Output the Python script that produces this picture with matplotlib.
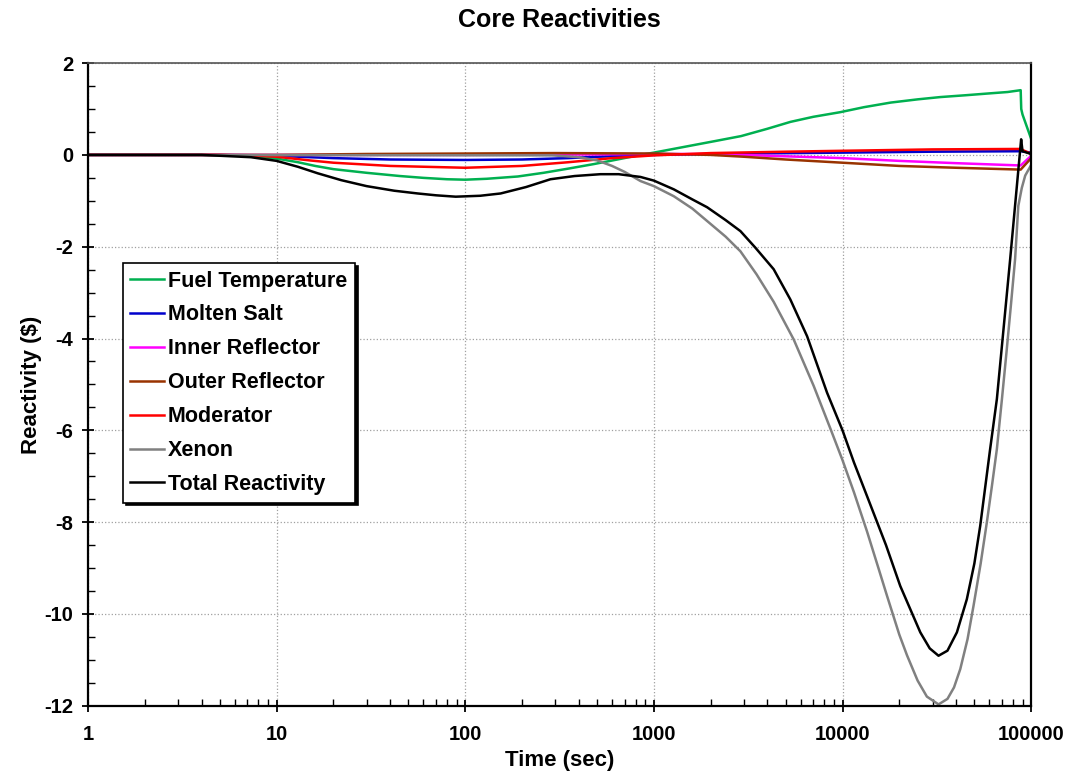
import matplotlib
matplotlib.use("Agg")
import matplotlib.pyplot as plt
from matplotlib.ticker import LogLocator, MultipleLocator, NullFormatter

plt.rcParams["font.family"] = ["Liberation Sans", "DejaVu Sans"]
plt.rcParams["axes.unicode_minus"] = False

# values (time in sec, reactivity in $)
fuel_t = [1, 4, 6, 8, 10, 13, 16, 20, 30, 45, 60, 80, 100, 130, 190, 260, 350, 480, 640, 850,
          1000, 1560, 2100, 2900, 4000, 5300, 7000, 9700, 13000, 18000, 25000, 33000, 45000,
          60000, 75000, 88000, 88600, 90000, 100000]
fuel_v = [0, 0, -0.01, -0.04, -0.08, -0.16, -0.24, -0.31, -0.39, -0.46, -0.5, -0.53, -0.54,
          -0.52, -0.47, -0.39, -0.30, -0.2, -0.1, 0.0, 0.05, 0.2, 0.3, 0.41, 0.57, 0.72, 0.83,
          0.93, 1.04, 1.14, 1.21, 1.26, 1.30, 1.34, 1.37, 1.41, 1.0, 0.88, 0.35]

salt_t = [1, 5, 8, 10, 15, 20, 40, 100, 200, 350, 500, 700, 1000, 3000, 10000, 30000, 88000, 100000]
salt_v = [0, 0, -0.01, -0.02, -0.05, -0.07, -0.1, -0.11, -0.1, -0.07, -0.04, -0.02, 0.0, 0.03,
          0.05, 0.07, 0.08, 0.05]

inner_t = [1, 100, 500, 1000, 2000, 5000, 10000, 20000, 40000, 88000, 100000]
inner_v = [0, 0, 0.01, 0.02, 0.02, -0.03, -0.07, -0.13, -0.18, -0.23, -0.02]

outer_t = [1, 10, 30, 100, 300, 1000, 2000, 3000, 5000, 10000, 20000, 40000, 88000, 100000]
outer_v = [0, 0, 0.02, 0.03, 0.04, 0.03, 0.0, -0.04, -0.1, -0.17, -0.24, -0.28, -0.32, -0.07]

mod_t = [1, 5, 8, 10, 15, 20, 40, 100, 200, 350, 600, 1000, 2000, 5000, 10000, 30000, 88000,
         91000, 100000]
mod_v = [0, 0, -0.02, -0.04, -0.12, -0.17, -0.24, -0.28, -0.24, -0.16, -0.07, -0.01, 0.04,
         0.07, 0.09, 0.12, 0.13, 0.10, 0.02]

xenon_t = [1, 290, 400, 500, 600, 700, 850, 1000, 1275, 1600, 1915, 2400, 2876, 3500, 4315,
           5510, 7030, 8790, 10000, 11500, 13480, 15500, 17200, 20000, 21970, 25000, 28000,
           32280, 36000, 39000, 42100, 46000, 49500, 54000, 58200, 62000, 65800, 70000, 74000,
           78000, 82200, 85500, 89200, 93000, 100000]
xenon_v = [0, -0.01, -0.05, -0.12, -0.24, -0.37, -0.57, -0.68, -0.9, -1.17, -1.44, -1.78, -2.1,
           -2.6, -3.2, -4.02, -5.03, -6.05, -6.65, -7.35, -8.2, -9.0, -9.6, -10.45, -10.9,
           -11.45, -11.8, -11.97, -11.85, -11.6, -11.2, -10.55, -9.82, -8.9, -8.01, -7.2, -6.41,
           -5.32, -4.3, -3.3, -2.27, -1.11, -0.72, -0.45, -0.22]

total_t = [1, 4, 7.3, 10, 13, 16.5, 22, 30, 42, 56, 70, 89, 120, 154, 210, 283, 380, 521, 650,
           849, 1000, 1275, 1600, 1915, 2400, 2876, 3450, 4315, 5290, 6490, 8280, 10000, 11500,
           13480, 17000, 20230, 25840, 29000, 32280, 36000, 40400, 45600, 50000, 53700, 60600,
           65800, 77400, 88500, 90000, 100000]
total_v = [0, 0, -0.05, -0.13, -0.26, -0.40, -0.55, -0.68, -0.78, -0.84, -0.88, -0.91, -0.89,
           -0.84, -0.7, -0.53, -0.46, -0.42, -0.42, -0.48, -0.56, -0.75, -0.97, -1.14, -1.42,
           -1.66, -2.02, -2.49, -3.15, -3.95, -5.18, -6.0, -6.7, -7.43, -8.5, -9.39, -10.4,
           -10.75, -10.91, -10.8, -10.4, -9.68, -8.9, -8.08, -6.41, -5.32, -2.27, 0.34, 0.08,
           0.02]

series = [
    ("Fuel Temperature", fuel_t, fuel_v, "#00b050"),
    ("Molten Salt", salt_t, salt_v, "#0000cc"),
    ("Inner Reflector", inner_t, inner_v, "#ff00ff"),
    ("Outer Reflector", outer_t, outer_v, "#993300"),
    ("Moderator", mod_t, mod_v, "#ff0000"),
    ("Xenon", xenon_t, xenon_v, "#808080"),
    ("Total Reactivity", total_t, total_v, "#000000"),
]
x_ticks = [1, 10, 100, 1000, 10000, 100000]

fig = plt.figure(figsize=(10.73, 7.79), dpi=100)
ax = fig.add_axes([0.082, 0.094, 0.879, 0.825])
for name, t, v, c in series:
    ax.plot(t, v, color=c, lw=1.8, label=name)

ax.set_xscale("log")
ax.set_xlim(1, 100000)
ax.set_ylim(-12, 2)
ax.set_xticks(x_ticks)
ax.set_xticklabels([str(x) for x in x_ticks])
ax.xaxis.set_minor_locator(LogLocator(base=10, subs=range(2, 10)))
ax.xaxis.set_minor_formatter(NullFormatter())
ax.yaxis.set_major_locator(MultipleLocator(2))
ax.yaxis.set_minor_locator(MultipleLocator(0.5))
ax.grid(which="major", color="#a0a0a0", linestyle=":", lw=0.9)
ax.tick_params(which="major", direction="inout", length=9, width=1.3, labelsize=14.5)
ax.tick_params(axis="x", which="major", pad=9)
ax.tick_params(axis="y", which="major", pad=6)
ax.tick_params(which="minor", direction="in", length=5, width=1.0)
for lbl in ax.get_xticklabels() + ax.get_yticklabels():
    lbl.set_fontweight("bold")
for s in ax.spines.values():
    s.set_linewidth(1.6)
    s.set_color("black")
ax.spines["top"].set_color("#555555")
ax.spines["top"].set_linewidth(1.2)

ax.set_xlabel("Time (sec)", fontsize=16, fontweight="bold", labelpad=5)
ax.set_ylabel("Reactivity ($)", fontsize=16, fontweight="bold", labelpad=2)
ax.set_title("Core Reactivities", fontsize=18, fontweight="bold", pad=26)

leg = ax.legend(loc="upper left", bbox_to_anchor=(0.037, 0.689), borderaxespad=0,
                fancybox=False, shadow={"color": "black", "alpha": 1.0}, framealpha=1,
                edgecolor="black", prop={"size": 15.5, "weight": "bold"}, handlelength=1.55,
                handletextpad=0.2, labelspacing=0.6, borderpad=0.35)
leg.get_frame().set_linewidth(1.2)

fig.savefig("out.png", dpi=100)
